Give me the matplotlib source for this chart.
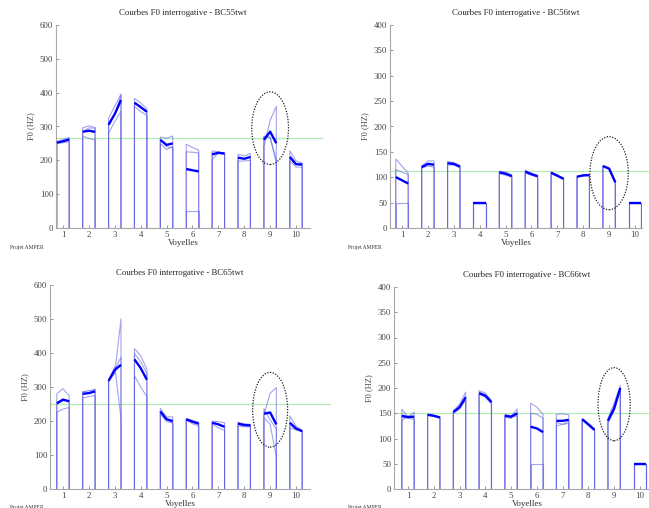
import numpy as np
import matplotlib
matplotlib.use("Agg")
import matplotlib.pyplot as plt
from matplotlib.patches import Ellipse

plt.rcParams['font.family'] = ['Liberation Serif', 'DejaVu Serif']

# F0 (Hz) par voyelle : 3 répétitions, chacune (début, milieu, fin)
f0_bc55 = [
    [[255, 262, 268], [250, 252, 255], [252, 255, 262]],
    [[296, 302, 297], [272, 265, 260], [285, 296, 295]],
    [[325, 360, 396], [280, 315, 345], [310, 336, 393]],
    [[383, 370, 352], [368, 358, 345], [360, 344, 333]],
    [[269, 265, 272], [262, 240, 237], [250, 232, 241]],
    [[248, 238, 230], [225, 224, 222], [50, 50, 50]],
    [[228, 225, 222], [202, 222, 218], [222, 220, 220]],
    [[218, 213, 220], [208, 203, 210], [198, 198, 200]],
    [[240, 318, 360], [270, 268, 200], [272, 268, 192]],
    [[228, 198, 192], [205, 188, 190], [198, 180, 180]],
]
f0_bc56 = [
    [[136, 122, 108], [115, 110, 105], [50, 50, 50]],
    [[122, 132, 132], [120, 125, 123], [118, 122, 120]],
    [[131, 129, 123], [128, 126, 121], [124, 124, 119]],
    [[50, 50, 50], [50, 50, 50], [50, 50, 50]],
    [[112, 110, 105], [110, 107, 102], [107, 104, 100]],
    [[114, 108, 104], [111, 106, 102], [108, 104, 100]],
    [[110, 104, 98], [109, 103, 97], [108, 102, 96]],
    [[100, 104, 106], [101, 104, 104], [102, 103, 103]],
    [[123, 118, 91], [122, 117, 90], [121, 116, 89]],
    [[50, 50, 50], [50, 50, 50], [50, 50, 50]],
]
f0_bc65 = [
    [[280, 295, 274], [226, 235, 240], [250, 259, 260]],
    [[285, 290, 292], [268, 272, 275], [287, 284, 294]],
    [[318, 340, 500], [318, 360, 208], [318, 350, 388]],
    [[413, 392, 352], [398, 375, 340], [333, 300, 272]],
    [[237, 212, 212], [220, 198, 195], [227, 205, 193]],
    [[205, 200, 195], [203, 192, 185], [207, 202, 196]],
    [[200, 198, 195], [190, 180, 172], [195, 192, 182]],
    [[195, 192, 190], [185, 183, 183], [196, 189, 188]],
    [[218, 282, 298], [210, 190, 95], [236, 203, 177]],
    [[215, 185, 172], [180, 175, 168], [190, 174, 170]],
]
f0_bc66 = [
    [[158, 142, 152], [135, 145, 140], [142, 140, 138]],
    [[148, 146, 142], [147, 145, 142], [146, 144, 141]],
    [[155, 168, 192], [150, 158, 178], [152, 160, 176]],
    [[195, 190, 175], [188, 182, 168], [187, 183, 173]],
    [[148, 145, 158], [142, 140, 148], [145, 144, 144]],
    [[170, 162, 148], [150, 148, 140], [50, 50, 50]],
    [[148, 149, 147], [125, 128, 130], [132, 128, 134]],
    [[140, 130, 118], [136, 126, 115], [138, 128, 118]],
    [[140, 170, 205], [130, 155, 195], [135, 155, 200]],
    [[50, 50, 50], [50, 50, 50], [50, 50, 50]],
]

locuteurs = ["BC55twt", "BC56twt", "BC65twt", "BC66twt"]
donnees = [f0_bc55, f0_bc56, f0_bc65, f0_bc66]
y_max = [600, 400, 600, 400]
y_step = [100, 50, 100, 50]
f0_moyen = [266, 113, 250, 150]
# ellipse autour de la voyelle 9 : centre F0, hauteur (Hz), largeur (voyelles)
ell_centre = [295, 108, 233, 168]
ell_haut = [215, 144, 220, 145]
ell_larg = [1.42, 1.48, 1.35, 1.25]

W, H = 649, 508
fig = plt.figure(figsize=(W / 100, H / 100), dpi=100)

# position des axes en pixels : gauche, droite, haut, bas ; xlim ; fin de la ligne verte
cadres = [
    (56, 310, 25, 228, (0.73, 10.54), 11.0),
    (390, 642, 25, 228, (0.537, 10.27), 10.6),
    (50, 310, 285, 489, (0.498, 10.54), 11.3),
    (394, 660, 287, 489, (0.457, 10.78), 10.8),
]

c_fin = (0.35, 0.35, 0.88)
demi = 0.24

for k in range(4):
    g, d, h, b, xl, xg = cadres[k]
    ax = fig.add_axes([g / W, 1 - b / H, (d - g) / W, (b - h) / H])
    courbes = np.array(donnees[k], dtype=float)
    ax.plot([xl[0], xg], [f0_moyen[k]] * 2, color='#b2ecb2', lw=0.9,
            clip_on=False, zorder=1)
    for i in range(10):
        x0, xm, x1 = i + 1 - demi, i + 1, i + 1 + demi
        for c in courbes[i]:
            ax.plot([x0, x0, xm, x1, x1], [0, c[0], c[1], c[2], 0],
                    color=c_fin, lw=0.8, alpha=0.55, zorder=2)
        moy = courbes[i].mean(axis=0)
        ax.plot([x0, xm, x1], moy, color='#0000ff', lw=1.7,
                solid_capstyle='butt', zorder=3)
    ax.add_patch(Ellipse((9, ell_centre[k]), ell_larg[k], ell_haut[k],
                         fill=False, ls=(0, (1, 1.2)), lw=0.9,
                         color='#222222', zorder=4))
    ax.set_xlim(*xl)
    ax.set_ylim(0, y_max[k])
    ax.set_xticks(range(1, 11))
    ax.set_yticks(np.arange(0, y_max[k] + 1, y_step[k]))
    for s in ['top', 'right']:
        ax.spines[s].set_visible(False)
    for s in ['left', 'bottom']:
        ax.spines[s].set_color('#a8a8a8')
        ax.spines[s].set_linewidth(0.8)
    ax.tick_params(direction='in', length=2.5, width=0.6, color='#888888',
                   labelsize=6.3, labelcolor='#444444', pad=2)
    ax.set_title("Courbes F0 interrogative - " + locuteurs[k],
                 fontsize=6.3, color='#222222', pad=7)
    ax.set_xlabel("Voyelles", fontsize=6.5, color='#333333', labelpad=0)
    ax.set_ylabel("F0 (HZ)", fontsize=6, color='#444444', labelpad=3)

for px, py in [(10, 247), (348, 247), (10, 507), (348, 507)]:
    fig.text(px / W, 1 - py / H, "Projet AMPER", fontsize=4, color='#333333',
             va='center')

fig.savefig("out.png", dpi=100)
